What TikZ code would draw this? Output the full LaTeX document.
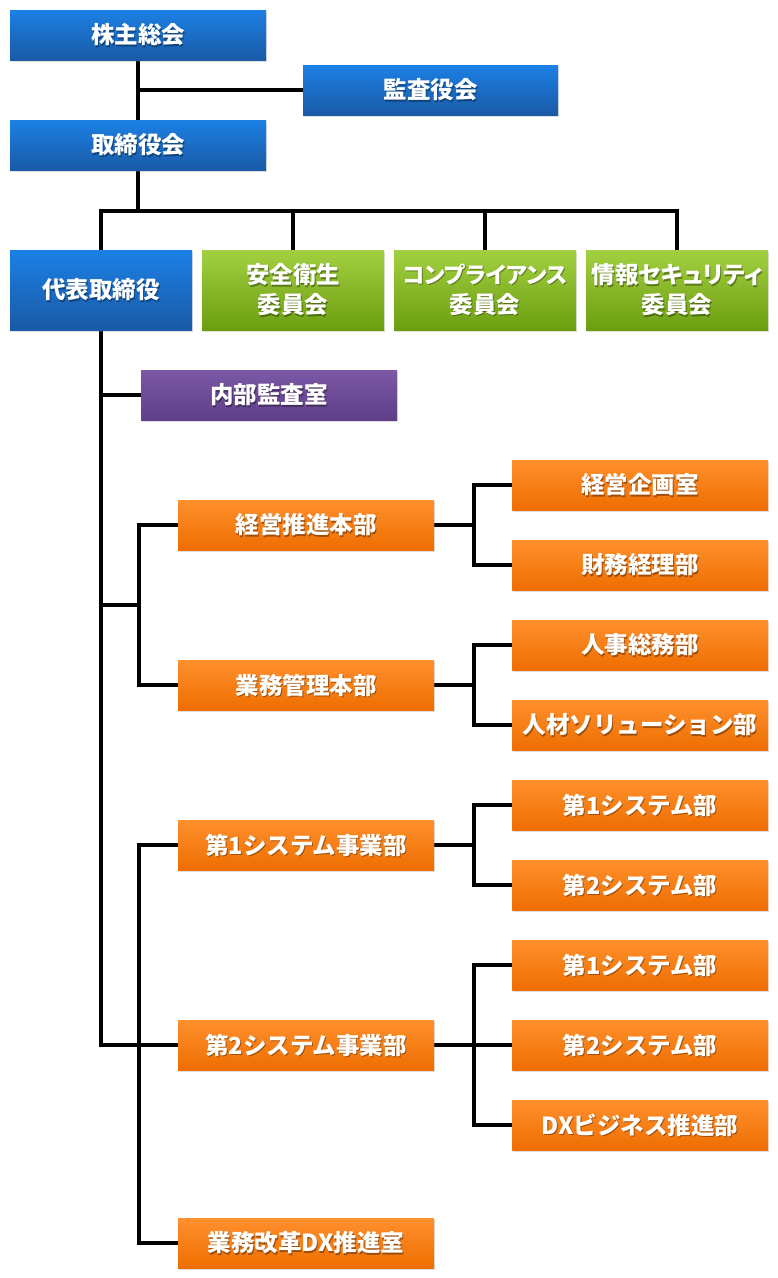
\documentclass[tikz,border=0pt]{standalone}
\usepackage{fontspec}
\newfontfamily\jp{Noto Sans CJK JP}
\newfontfamily\jpp[RawFeature=+palt]{Noto Sans CJK JP}
\usetikzlibrary{shadows,backgrounds,calc}
\definecolor{bluetop}{HTML}{1B80E4}
\definecolor{bluebot}{HTML}{1A5AA6}
\definecolor{greentop}{HTML}{A2D040}
\definecolor{greenbot}{HTML}{6C9E10}
\definecolor{purptop}{HTML}{7C58A6}
\definecolor{purpbot}{HTML}{5E3F88}
\definecolor{orgtop}{HTML}{FF902E}
\definecolor{orgbot}{HTML}{EE6E00}
\tikzset{
  boxbase/.style={rectangle, inner sep=0pt, minimum width=256pt, minimum height=50pt,
    drop shadow={opacity=0.25, shadow xshift=0.5pt, shadow yshift=-2pt}},
  bluebox/.style={boxbase, top color=bluetop, bottom color=bluebot},
  greenbox/.style={boxbase, top color=greentop, bottom color=greenbot},
  purpbox/.style={boxbase, top color=purptop, bottom color=purpbot},
  orgbox/.style={boxbase, top color=orgtop, bottom color=orgbot},
  txt/.style={text=white, font=\jp\bfseries\fontsize{23.5}{30}\selectfont, align=center, inner sep=0pt},
  txtsh/.style={text=black, opacity=0.35, font=\jp\bfseries\fontsize{23.5}{30}\selectfont, align=center, inner sep=0pt},
  conn/.style={line width=3.8pt, draw=black, line cap=rect}
}
\newcommand\orgnode[5]{% name, x, y, style, text
  \node[#4] (#1) at (#2,#3) {};
  \node[txtsh] (#1-s) at ([shift={(1pt,-1.2pt)}]#1.center) {#5};
  \node[txt] (#1-t) at (#1.center) {#5};
}
\begin{document}
\begin{tikzpicture}[x=1pt,y=-1pt]
\useasboundingbox (0,0) rectangle (778,1278);
% top
\orgnode{kabu}{138}{35}{bluebox}{株主総会}
\orgnode{kansa}{430.5}{90}{bluebox, minimum width=255pt}{監査役会}
\orgnode{tori}{138}{145}{bluebox}{取締役会}
% row
\orgnode{daihyo}{101}{290}{bluebox, minimum width=182pt, minimum height=80pt}{代表取締役}
\orgnode{anzen}{293}{290}{greenbox, minimum width=182pt, minimum height=80pt}{安全衛生\\委員会}
\orgnode{comp}{485}{290}{greenbox, minimum width=182pt, minimum height=80pt}{{\jpp\fontsize{22.5}{30}\selectfont コンプライアンス}\\委員会}
\orgnode{joho}{677}{290}{greenbox, minimum width=182pt, minimum height=80pt}{{\jpp 情報セキュリティ}\\委員会}
% internal audit
\orgnode{naibu}{269}{395}{purpbox}{内部監査室}
% divisions
\orgnode{keiei}{306}{525}{orgbox}{経営推進本部}
\orgnode{gyomu}{306}{685}{orgbox}{業務管理本部}
\orgnode{sysa}{306}{845}{orgbox}{第1システム事業部}
\orgnode{sysb}{306}{1045}{orgbox}{第2システム事業部}
\orgnode{kaikaku}{306}{1243}{orgbox}{業務改革DX推進室}
% departments
\orgnode{kikaku}{640}{485}{orgbox}{経営企画室}
\orgnode{zaimu}{640}{565}{orgbox}{財務経理部}
\orgnode{jinji}{640}{645}{orgbox}{人事総務部}
\orgnode{jinzai}{640}{725}{orgbox}{人材ソリューション部}
\orgnode{aone}{640}{805}{orgbox}{第1システム部}
\orgnode{atwo}{640}{885}{orgbox}{第2システム部}
\orgnode{bone}{640}{965}{orgbox}{第1システム部}
\orgnode{btwo}{640}{1045}{orgbox}{第2システム部}
\orgnode{bdx}{640}{1125}{orgbox}{DXビジネス推進部}
\coordinate (busy) at (0,211);
\coordinate (brk) at (139,605);
\begin{scope}[on background layer]
\fill[white] (0,0) rectangle (778,1278);
\draw[conn] (kabu.south) -- (tori.north);
\draw[conn] (kabu.south |- kansa.west) -- (kansa.west);
\draw[conn] (tori.south) -- (tori.south |- busy);
\draw[conn] (daihyo.north) |- (busy -| joho.north) -- (joho.north);
\draw[conn] (anzen.north) -- (anzen.north |- busy);
\draw[conn] (comp.north) -- (comp.north |- busy);
\draw[conn] (daihyo.south) |- (sysb.west);
\draw[conn] (daihyo.south |- naibu.west) -- (naibu.west);
\draw[conn] (daihyo.south |- brk) -- (brk);
\draw[conn] (keiei.west) -- ++(-39,0) |- (gyomu.west);
\draw[conn] (sysa.west) -- ++(-39,0) |- (kaikaku.west);
\draw[conn] (keiei.east) -- ++(39,0);
\draw[conn] (kikaku.west) -- ++(-38,0) |- (zaimu.west);
\draw[conn] (gyomu.east) -- ++(39,0);
\draw[conn] (jinji.west) -- ++(-38,0) |- (jinzai.west);
\draw[conn] (sysa.east) -- ++(39,0);
\draw[conn] (aone.west) -- ++(-38,0) |- (atwo.west);
\draw[conn] (sysb.east) -- (btwo.west);
\draw[conn] (bone.west) -- ++(-38,0) |- (bdx.west);
\end{scope}
\end{tikzpicture}
\end{document}
